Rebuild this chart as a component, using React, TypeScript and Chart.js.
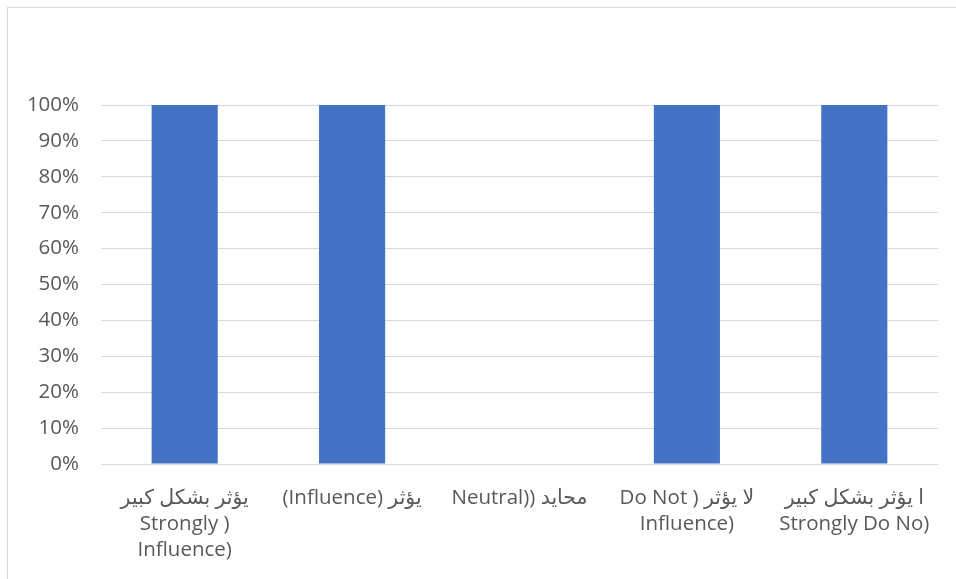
import React, { useEffect, useRef } from "react";
import { Chart, registerables } from "chart.js";

Chart.register(...registerables);

const categories: (string | string[])[] = [
  ["يؤثر بشكل كبير", "Strongly )", "Influence)"],
  "(Influence) يؤثر",
  "Neutral)) محايد",
  ["Do Not ) لا يؤثر", "Influence)"],
  ["ا يؤثر بشكل كبير", "Strongly Do No)"],
];
const values = [100, 100, 0, 100, 100];
const yTicks = [0, 10, 20, 30, 40, 50, 60, 70, 80, 90, 100];

export default function App() {
  const ref = useRef<HTMLCanvasElement | null>(null);
  useEffect(() => {
    if (!ref.current) return;
    const font = "'Open Sans', 'DejaVu Sans', sans-serif";
    const chart = new Chart(ref.current, {
      type: "bar",
      data: {
        labels: categories,
        datasets: [
          {
            data: values,
            backgroundColor: "#4472C4",
            borderWidth: 0,
            barPercentage: 1,
            categoryPercentage: 0.395,
          },
        ],
      },
      options: {
        animation: false,
        responsive: false,
        maintainAspectRatio: false,
        layout: { padding: { top: 105, right: 18, left: 0, bottom: 0 } },
        plugins: { legend: { display: false }, tooltip: { enabled: false } },
        scales: {
          x: {
            grid: { display: false },
            border: { display: false },
            ticks: {
              autoSkip: false,
              maxRotation: 0,
              minRotation: 0,
              padding: 13,
              color: "#595959",
              font: { family: font, size: 20.5, lineHeight: 1.27 },
            },
            afterFit: (s: any) => {
              s.height = 115;
            },
          },
          y: {
            min: 0,
            max: 100,
            afterBuildTicks: (s: any) => {
              s.ticks = yTicks.map((v) => ({ value: v }));
            },
            grid: { color: "#d9d9d9", lineWidth: 1, drawTicks: false },
            border: { display: false },
            ticks: {
              padding: 22,
              color: "#595959",
              font: { family: font, size: 20.5 },
              callback: (v: any) => v + "%",
            },
            afterFit: (s: any) => {
              s.width = 101;
            },
          },
        },
      },
    });
    return () => chart.destroy();
  }, []);
  return (
    <div style={{ position: "fixed", left: 0, top: 0, width: 956, height: 579, background: "#fff" }}>
      <div
        style={{
          position: "absolute",
          left: 7,
          top: 7,
          width: 960,
          height: 600,
          border: "1px solid #d9d9d9",
          boxSizing: "border-box",
        }}
      />
      <canvas ref={ref} width={956} height={579} style={{ position: "absolute", left: 0, top: 0 }} />
    </div>
  );
}
